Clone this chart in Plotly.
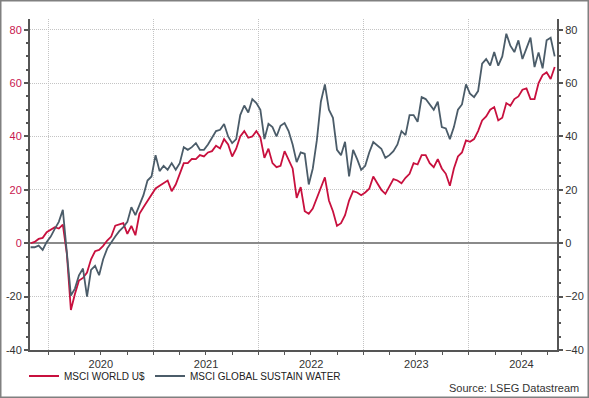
import pandas as pd
import plotly.graph_objects as go

# ---- data (fortnightly readings, % change since start) ----
dates = pd.date_range("2019-11-01", periods=131, freq="14D")

msci_world = [0, 0.5, 1.6, 2.0, 4.1, 5.0, 6.0, 5.5, 7.0, -4,
              -25, -19, -14, -13, -11, -6, -3, -2.5, -1, 1,
              2.5, 6.6, 7, 7.5, 3.5, 6.5, 3, 11, 13.5, 16,
              18, 20.5, 21.5, 22.5, 23.5, 19.5, 22, 26, 30, 30,
              31.6, 31.5, 33, 32.5, 34, 34.5, 36.5, 35.5, 39, 37,
              32.5, 35.4, 40, 42, 39.5, 40, 42, 39.7, 32, 35.4,
              30, 28.5, 29, 34.5, 31, 28, 17, 21, 12, 11,
              13, 17, 21.5, 24.7, 16, 12, 6.5, 7.5, 10.5, 16,
              19.5, 19, 18, 19, 20.4, 25, 22.5, 20, 18.5, 21.5,
              24, 23.5, 22.5, 24.5, 26, 30, 29.5, 33, 33, 30,
              28.5, 31.5, 28, 26, 21.5, 28, 32.5, 34, 38.5, 38,
              39, 42, 46, 47.5, 50, 51, 46, 47, 52.5, 51.5,
              54, 55, 57.5, 58, 54, 54, 60, 63, 64, 61.5, 66]

msci_water = [-1.5, -1.5, -0.9, -2.5, 0.5, 2.5, 5.4, 8.0, 12.5, -4,
              -19.6, -17, -12, -9.5, -20, -10, -8.5, -12, -6, -2,
              0.4, 2.5, 4.5, 6, 8, 13.5, 10.5, 14, 18, 23.5,
              25, 33, 27, 29, 27.5, 30, 27.5, 30, 36, 35,
              36, 37.5, 35, 35, 37, 39.5, 42, 42.5, 44.7, 40,
              37.5, 39, 48, 51.6, 49, 54, 52.5, 50, 39, 44.7,
              43.5, 40, 44, 45, 42, 37, 30.4, 34, 33.5, 22,
              28, 38.5, 53, 59.5, 50, 47, 35, 33, 38, 25,
              35, 31.5, 27.5, 29, 34, 37.9, 36.5, 35.4, 32, 33,
              34.5, 37, 42, 40.5, 48, 48, 45.5, 54.75, 54, 52,
              50, 53, 43.5, 43, 39, 43.5, 50, 52, 59.5, 56,
              54.75, 57, 67.3, 69, 66.6, 71.6, 66.5, 70, 78.5, 74,
              71.6, 76, 69, 73, 77, 66, 71.5, 65.5, 76, 77, 70]

series_names = ["MSCI WORLD U$", "MSCI GLOBAL SUSTAIN WATER"]
y_ticks = [-40, -20, 0, 20, 40, 60, 80]

RED = "#c8103e"
SLATE = "#4b5c69"
LABEL_RED = "#c8174f"
DARK = "#333333"
AXIS = "#555555"
GRID = "#c4c4c4"

W, H = 589, 398
ML, MR, MT, MB = 30, 32, 19, 48
PW, PH = W - ML - MR, H - MT - MB

fig = go.Figure()
fig.add_trace(go.Scatter(x=dates, y=msci_world, name=series_names[0],
                         mode="lines", line=dict(color=RED, width=1.8)))
fig.add_trace(go.Scatter(x=dates, y=msci_water, name=series_names[1],
                         mode="lines", line=dict(color=SLATE, width=1.8)))
# invisible trace to anchor the right-hand axis
fig.add_trace(go.Scatter(x=dates, y=msci_world, yaxis="y2", mode="lines",
                         line=dict(width=0), opacity=0, showlegend=False,
                         hoverinfo="skip"))

left_text = [f'<span style="color:{LABEL_RED if v >= 0 else DARK}">{v}</span>' for v in y_ticks]

font = "Liberation Sans, Arial, sans-serif"
fig.update_layout(
    width=W, height=H, autosize=False,
    margin=dict(l=ML, r=MR, t=MT, b=MB, autoexpand=False),
    paper_bgcolor="white", plot_bgcolor="white",
    font=dict(family=font, size=11, color=DARK),
    showlegend=True,
    legend=dict(orientation="h", x=(24 - ML) / PW, xanchor="left",
                y=(H - 376 - MB) / PH, yanchor="middle",
                font=dict(size=10, color="#222222"),
                bgcolor="rgba(0,0,0,0)", itemwidth=30,
                tracegroupgap=0),
    xaxis=dict(
        type="date", automargin=False,
        range=["2019-10-30", "2024-11-02"],
        dtick="M12", tick0="2020-01-01", tickformat="%Y",
        ticklabelmode="period",
        ticks="outside", ticklen=3, tickcolor=AXIS,
        showline=True, linecolor=AXIS, linewidth=1.5,
        showgrid=True, gridcolor=GRID, griddash="1px,1px", gridwidth=1,
        minor=dict(dtick="M3", ticks="outside", ticklen=3, tickcolor=AXIS, showgrid=False),
        tickfont=dict(size=11, color=DARK),
        zeroline=False,
    ),
    yaxis=dict(
        range=[-40, 84], automargin=False,
        tickvals=y_ticks, ticktext=left_text,
        ticks="outside", ticklen=4, tickwidth=1.5, tickcolor=AXIS,
        showline=True, linecolor=AXIS, linewidth=2,
        showgrid=True, gridcolor=GRID, griddash="1px,1px", gridwidth=1,
        zeroline=True, zerolinecolor="#8a8a8a", zerolinewidth=2,
        minor=dict(dtick=5, tick0=0, ticks="outside", ticklen=2, tickcolor=AXIS, showgrid=False),
        tickfont=dict(size=11),
    ),
    yaxis2=dict(
        range=[-40, 84], overlaying="y", side="right", automargin=False,
        tickvals=y_ticks,
        ticks="outside", ticklen=4, tickwidth=1.5, tickcolor=AXIS,
        showline=True, linecolor=AXIS, linewidth=2,
        showgrid=False, zeroline=False,
        minor=dict(dtick=5, tick0=0, ticks="outside", ticklen=2, tickcolor=AXIS),
        tickfont=dict(size=11, color=DARK),
    ),
)

# outer frame around the whole picture
fig.add_shape(type="rect", xref="paper", yref="paper",
              x0=(0.75 - ML) / PW, x1=(W - 0.75 - ML) / PW,
              y0=(0.75 - MB) / PH, y1=(H - 0.75 - MB) / PH,
              line=dict(color="#808080", width=1.5), fillcolor="rgba(0,0,0,0)", layer="above")

fig.add_annotation(text="Source: LSEG Datastream", xref="paper", yref="paper",
                   x=(581 - ML) / PW, xanchor="right",
                   y=(H - 388 - MB) / PH, yanchor="middle",
                   showarrow=False, font=dict(size=11, color=DARK))

fig.write_html("out.html", config={"displayModeBar": False},
               post_script="document.body.style.margin='0';document.body.style.overflow='hidden';")
